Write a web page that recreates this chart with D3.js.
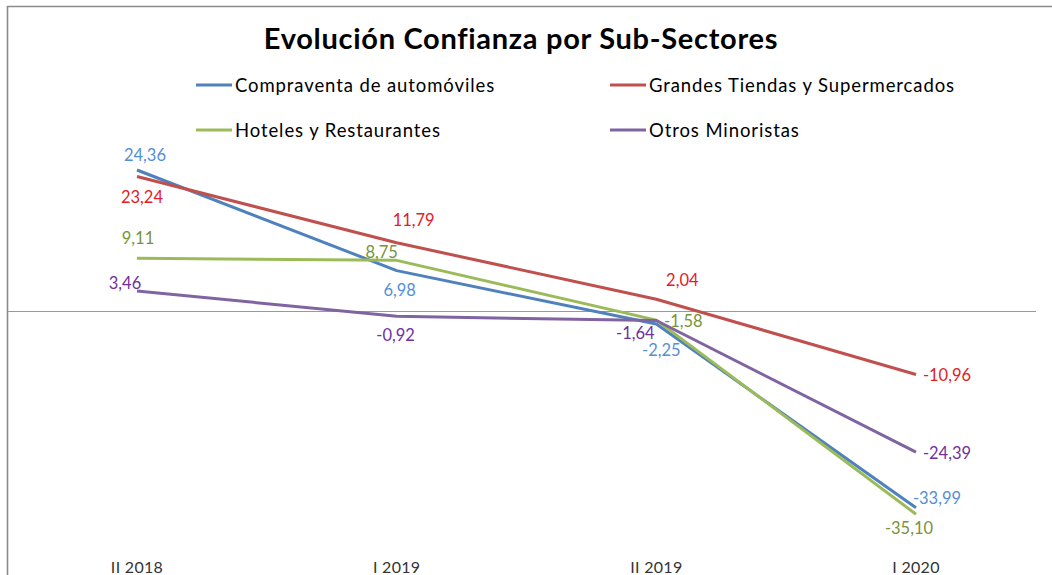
<!DOCTYPE html>
<html>
<head>
<meta charset="utf-8">
<script src="https://cdn.jsdelivr.net/npm/d3@7"></script>
<style>
  body { margin: 0; background: #fff; }
  svg { display: block; font-family: Lato, "Open Sans", sans-serif; }
</style>
</head>
<body>
<div id="chart"></div>
<script>
// data
const periods = ["II 2018", "I 2019", "II 2019", "I 2020"];
const seriesNames = ["Compraventa de automóviles", "Grandes Tiendas y Supermercados", "Hoteles y Restaurantes", "Otros Minoristas"];
const compraventa = [24.36, 6.98, -2.25, -33.99];
const grandesTiendas = [23.24, 11.79, 2.04, -10.96];
const hoteles = [9.11, 8.75, -1.58, -35.10];
const otros = [3.46, -0.92, -1.64, -24.39];

// styling
const lineColors = ["#4f81bd", "#c0504d", "#9bbb59", "#8064a2"];
const labelColors = ["#558ed5", "#e0211f", "#77933c", "#7030a0"];
// label offsets from each point, [dx, dy] of label centre
const labelOffsets = [
  [[8, -15], [3, 20], [5, 26], [21, -10]],
  [[5, 21], [17, -23], [26, -19], [31, 1]],
  [[1, -20], [-15, -8], [27, 1], [-7, 14]],
  [[-12, -8], [-1, 19], [-21, 13], [31, 1]]
];

const allSeries = [compraventa, grandesTiendas, hoteles, otros];

const width = 1052, height = 575;
const svg = d3.select("#chart").append("svg")
  .attr("width", width)
  .attr("height", height);

// chart border (left + top visible)
svg.append("path")
  .attr("d", `M7.5,${height} L7.5,6.5 L${width},6.5`)
  .attr("fill", "none")
  .attr("stroke", "#8a8a8a")
  .attr("stroke-width", 1.6);

const x = d3.scalePoint().domain(periods).range([137, 916]);
const y = d3.scaleLinear().domain([-35.10, 24.36]).range([514.2, 170]);

// zero line
svg.append("line")
  .attr("x1", 8).attr("x2", 1036)
  .attr("y1", Math.round(y(0)) + 0.5).attr("y2", Math.round(y(0)) + 0.5)
  .attr("stroke", "#999")
  .attr("stroke-width", 1);

// category labels
svg.append("g")
  .selectAll("text")
  .data(periods)
  .enter()
  .append("text")
  .attr("x", d => x(d))
  .attr("y", 573)
  .attr("text-anchor", "middle")
  .attr("font-size", "16px")
  .attr("letter-spacing", "0.3px")
  .attr("fill", "#333")
  .text(d => d);

// title
svg.append("text")
  .attr("x", 521)
  .attr("y", 49)
  .attr("text-anchor", "middle")
  .attr("font-size", "29px")
  .attr("font-weight", "bold")
  .attr("letter-spacing", "0.7px")
  .attr("fill", "#000")
  .text("Evolución Confianza por Sub-Sectores");

// legend
const legendPos = [[196, 85], [610, 85], [196, 130], [610, 130]];
const legend = svg.append("g")
  .selectAll("g")
  .data(seriesNames)
  .enter()
  .append("g")
  .attr("transform", (d, i) => `translate(${legendPos[i][0]}, ${legendPos[i][1]})`);

legend.append("line")
  .attr("x1", 0).attr("x2", 36)
  .attr("stroke", (d, i) => lineColors[i])
  .attr("stroke-width", 3);

legend.append("text")
  .attr("x", 39)
  .attr("y", 6.5)
  .attr("font-size", "18.5px")
  .attr("letter-spacing", "0.9px")
  .attr("fill", "#000")
  .text(d => d);

const line = d3.line()
  .x((d, i) => x(periods[i]))
  .y(d => y(d));

svg.append("g")
  .selectAll("path")
  .data(allSeries)
  .enter()
  .append("path")
  .attr("d", d => line(d))
  .attr("fill", "none")
  .attr("stroke", (d, i) => lineColors[i])
  .attr("stroke-width", 3)
  .attr("stroke-linejoin", "round");

// data labels
const fmt = v => v.toFixed(2).replace(".", ",");
allSeries.forEach((vals, s) => {
  svg.append("g")
    .selectAll("text")
    .data(vals)
    .enter()
    .append("text")
    .attr("x", (d, i) => x(periods[i]) + labelOffsets[s][i][0])
    .attr("y", (d, i) => y(d) + labelOffsets[s][i][1])
    .attr("dy", "0.35em")
    .attr("text-anchor", "middle")
    .attr("font-size", "16.5px")
    .attr("fill", labelColors[s])
    .text(d => fmt(d));
});
</script>
</body>
</html>
